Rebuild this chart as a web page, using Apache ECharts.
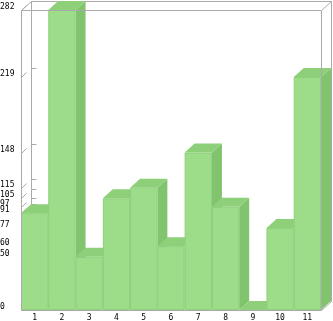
<!DOCTYPE html>
<html>
<head>
<meta charset="utf-8">
<script src="https://cdn.jsdelivr.net/npm/echarts@6/dist/echarts.min.js"></script>
<style>html,body{margin:0;padding:0;background:#fff}#c{width:333px;height:321px}</style>
</head>
<body>
<div id="c"></div>
<script>
const categories = ['1','2','3','4','5','6','7','8','9','10','11'];
const values = [91, 282, 50, 105, 115, 60, 148, 97, 0, 77, 219];
const yTickValues = [0, 50, 60, 77, 91, 97, 105, 115, 148, 219, 282];

const DX = 10, DY = -9;
const FRONT = '#9ddd8a', TOP = '#8dd079', SIDE = '#80c46d', EDGE = '#8fcf7c';
const GREY = '#aaaaaa';

const chart = echarts.init(document.getElementById('c'), null, {renderer: 'canvas'});

function boxBack(params, api) {
  const cs = params.coordSys;
  const x0 = cs.x + 0.5, y0 = cs.y + 0.5, x1 = cs.x + cs.width + 0.5, y1 = cs.y + cs.height + 0.5;
  const ls = {stroke: GREY, lineWidth: 1, fill: null};
  return {type: 'group', children: [
    {type: 'polyline', shape: {points: [[x0 + DX, y1 + DY], [x0 + DX, y0 + DY], [x1 + DX, y0 + DY], [x1 + DX, y1 + DY]]}, style: ls},
    {type: 'line', shape: {x1: x0, y1: y0, x2: x0 + DX, y2: y0 + DY}, style: ls}
  ]};
}
function boxFront(params, api) {
  const cs = params.coordSys;
  const x0 = cs.x + 0.5, y0 = cs.y + 0.5, x1 = cs.x + cs.width + 0.5, y1 = cs.y + cs.height + 0.5;
  const ls = {stroke: GREY, lineWidth: 1, fill: null};
  return {type: 'group', children: [
    {type: 'polygon', shape: {points: [[x0, y0], [x1, y0], [x1, y1], [x0, y1]]}, style: ls},
    {type: 'line', shape: {x1: x1, y1: y0, x2: x1 + DX, y2: y0 + DY}, style: ls},
    {type: 'line', shape: {x1: x1, y1: y1, x2: x1 + DX, y2: y1 + DY}, style: ls},
    {type: 'line', shape: {x1: x1 + DX, y1: y0 + DY, x2: x1 + DX, y2: y1 + DY}, style: ls}
  ]};
}
function tickItem(params, api) {
  const cs = params.coordSys;
  const y = Math.round(api.coord([0, api.value(1)])[1]) + 0.5;
  const x0 = cs.x + 0.5;
  const ls = {stroke: GREY, lineWidth: 1, fill: null};
  return {type: 'group', children: [
    {type: 'line', shape: {x1: x0 + DX, y1: y + DY, x2: x0 + DX + 5, y2: y + DY}, style: ls},
    {type: 'line', shape: {x1: x0, y1: y, x2: x0 + 5, y2: y - 5}, style: ls}
  ]};
}
function barItem(params, api) {
  const idx = api.value(0), v = api.value(1);
  const p0 = api.coord([idx, 0]);
  const p1 = api.coord([idx, v]);
  const w = api.size([1, 0])[0];
  const xl = p0[0] - w / 2, xr = p0[0] + w / 2, yb = p0[1], yt = p1[1];
  return {type: 'group', children: [
    {type: 'polygon', shape: {points: [[xr, yt], [xr + DX, yt + DY], [xr + DX, yb + DY], [xr, yb]]}, style: {fill: SIDE}},
    {type: 'polygon', shape: {points: [[xl, yt], [xr, yt], [xr + DX, yt + DY], [xl + DX, yt + DY]]}, style: {fill: TOP}},
    {type: 'rect', shape: {x: xl + 0.5, y: yt + 0.5, width: w - 1, height: Math.max(0, yb - yt - 1)}, style: {fill: FRONT, stroke: EDGE, lineWidth: 1}}
  ]};
}

chart.setOption({
  animation: false,
  grid: {left: 21, right: 12, top: 10, bottom: 11, containLabel: false, outerBoundsMode: 'none'},
  xAxis: {
    type: 'category', data: categories,
    axisLine: {show: false}, axisTick: {show: false}, splitLine: {show: false},
    axisLabel: {color: '#000', fontSize: 8, fontFamily: 'DejaVu Sans Mono', margin: 4, interval: 0}
  },
  yAxis: {
    type: 'value', min: 0, max: 282,
    axisLine: {show: false}, axisTick: {show: false}, splitLine: {show: false},
    axisLabel: {customValues: yTickValues, color: '#000', fontSize: 8, fontFamily: 'DejaVu Sans Mono',
      align: 'left', margin: 21, verticalAlign: 'bottom', lineHeight: 6}
  },
  series: [
    {type: 'custom', renderItem: boxBack, data: [[0, 0]], z: 1, silent: true},
    {type: 'custom', renderItem: tickItem, data: yTickValues.map(v => [0, v]), z: 2, silent: true},
    {type: 'custom', renderItem: barItem, data: values.map((v, i) => [i, v]), z: 3, clip: false},
    {type: 'custom', renderItem: boxFront, data: [[0, 0]], z: 4, silent: true}
  ]
});
</script>
</body>
</html>
